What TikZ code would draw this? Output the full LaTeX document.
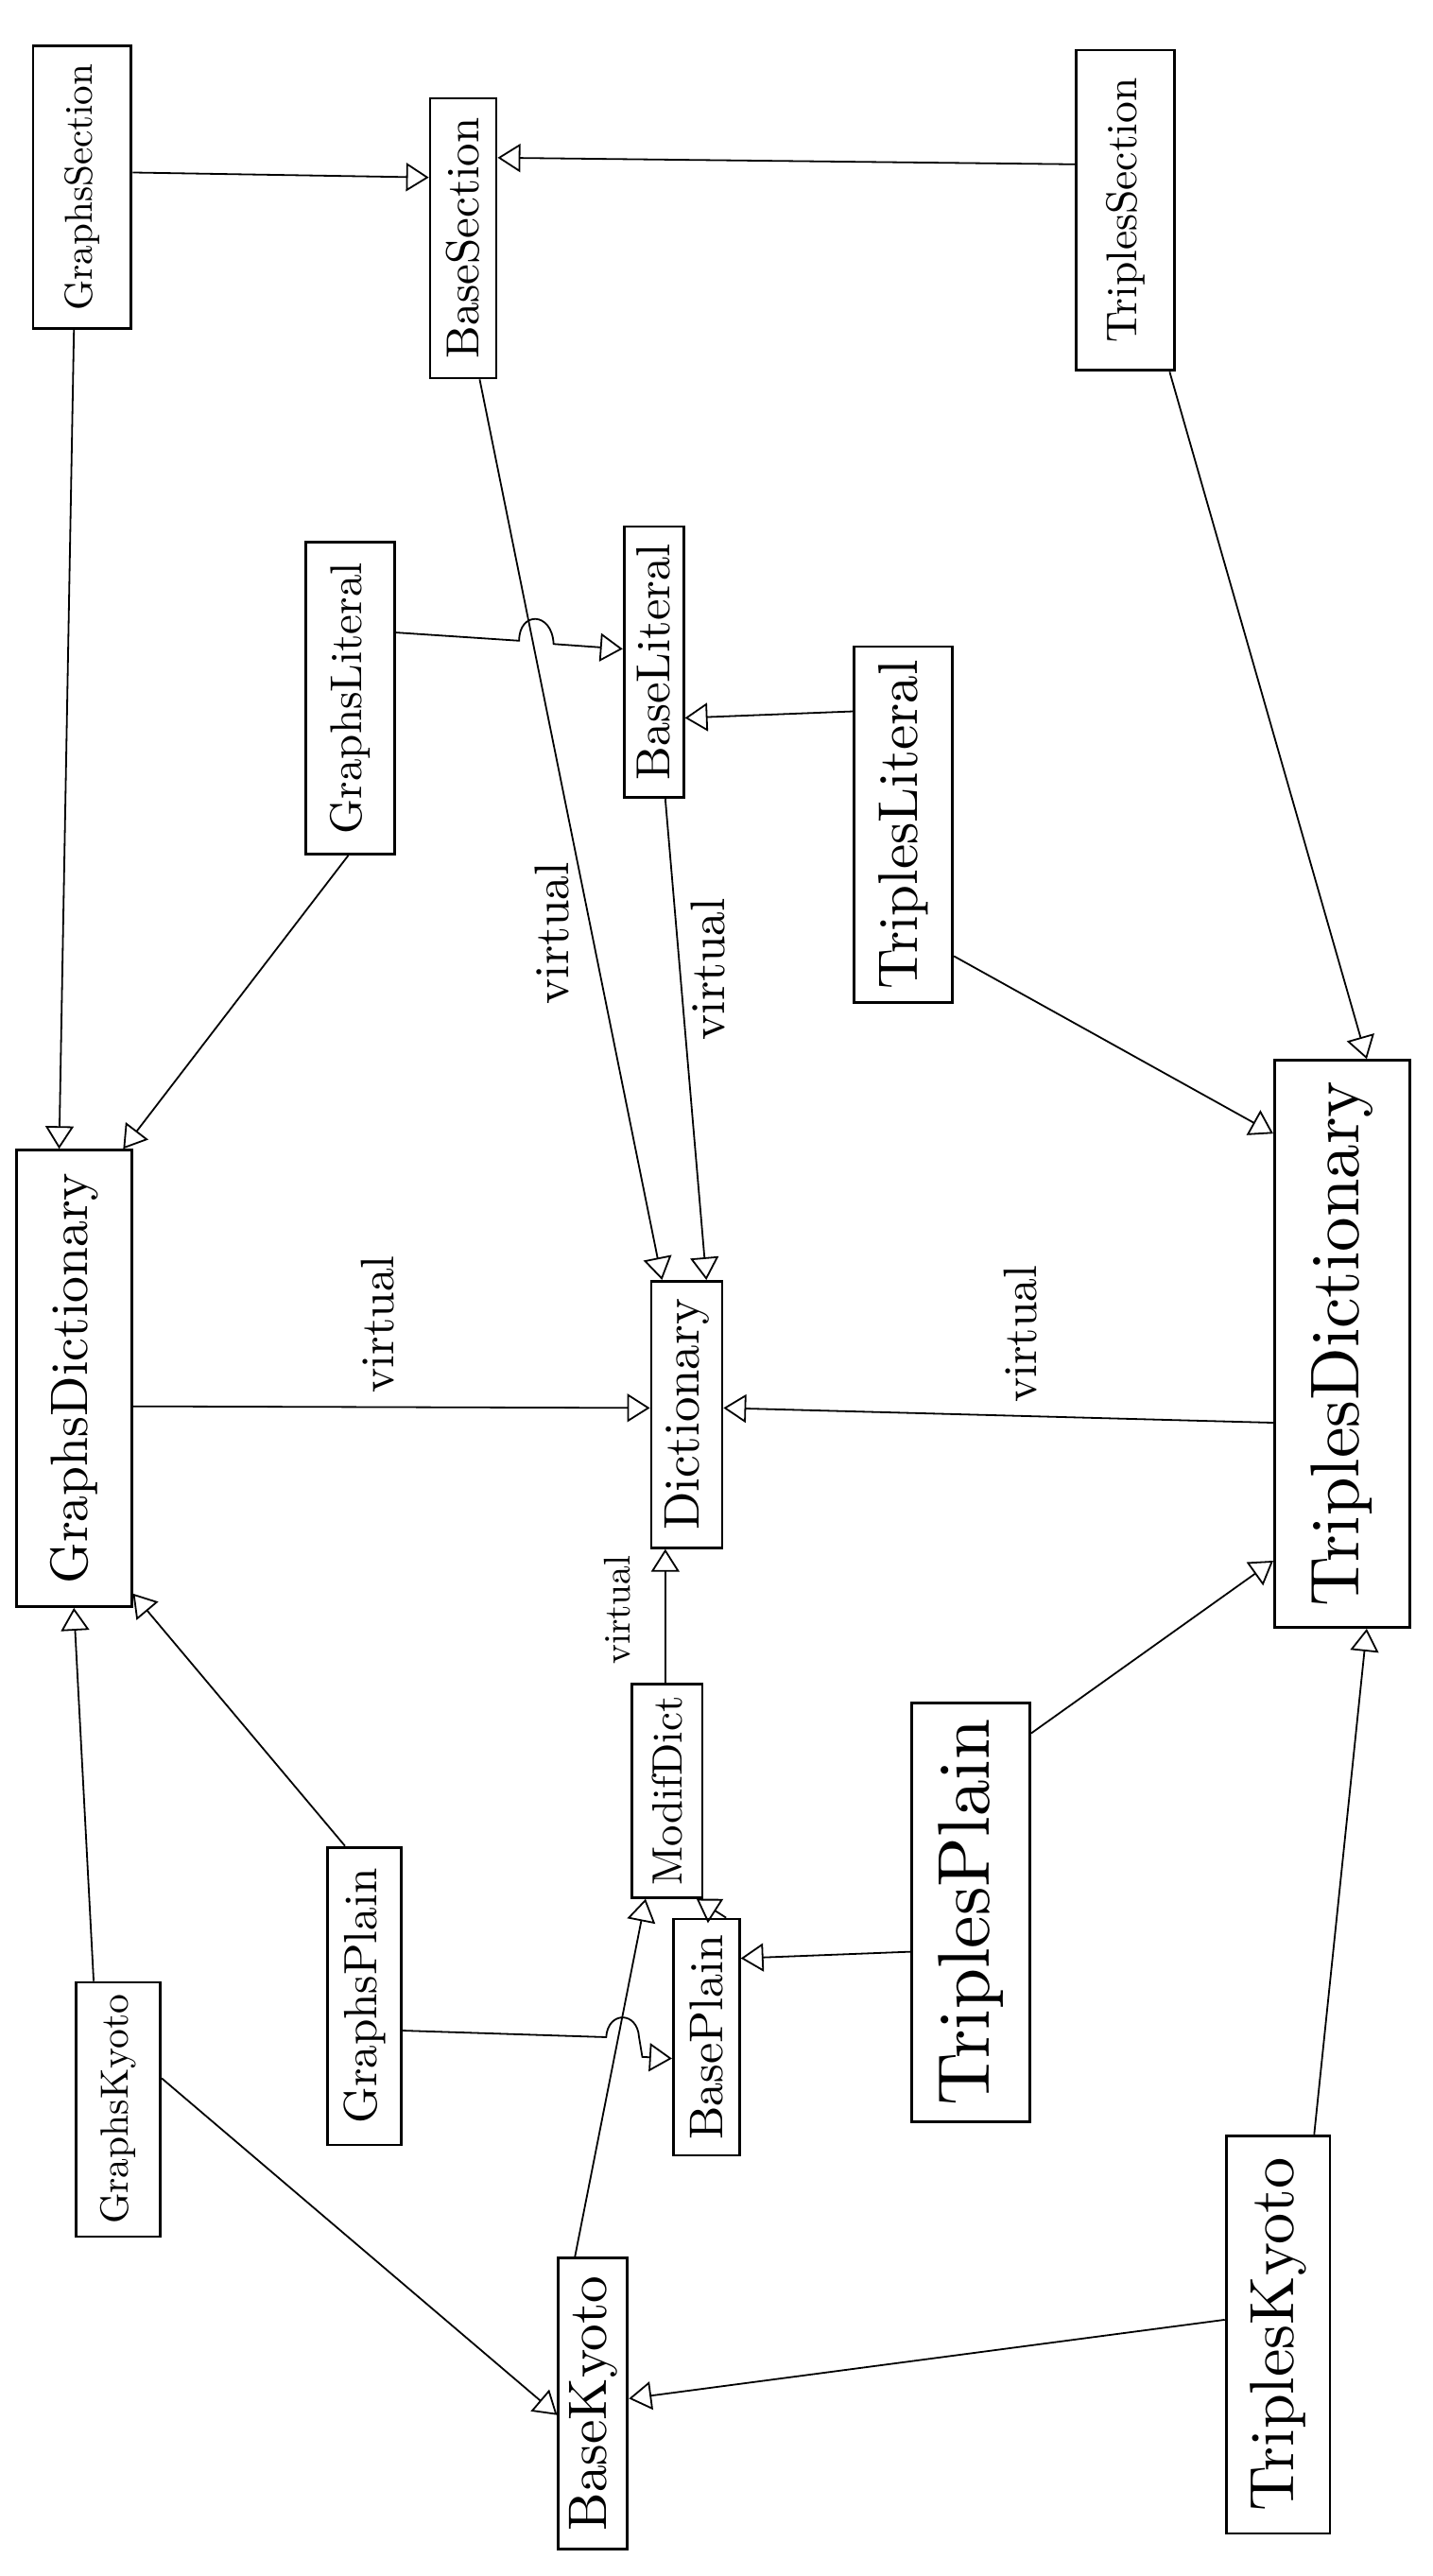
\documentclass[tikz,border=0pt]{standalone}
\usetikzlibrary{arrows.meta,calc}
\newcommand{\vtext}[2]{\rotatebox{90}{\resizebox{#1}{!}{#2}}}
\begin{document}
\begin{tikzpicture}[x=1.7385pt,y=-1.7385pt,
  box/.style={draw, line width=2.8pt, inner sep=0pt},
  conn/.style={line width=1.8pt, -{Triangle[open,length=24pt,width=30pt,line width=1.8pt]}},
  lab/.style={inner sep=0pt}]
\useasboundingbox (0,0) rectangle (872,1568);
\fill[white] (0,0) rectangle (872,1568);
% classes
\node[box, minimum width=104pt, minimum height=299pt] (gs) at (50,114) {\vtext{261pt}{GraphsSection}};
\node[box, minimum width=70pt, minimum height=296pt] (bs) at (282,145) {\vtext{255pt}{BaseSection}};
\node[box, minimum width=104pt, minimum height=339pt] (ts) at (685,128) {\vtext{280pt}{TriplesSection}};
\node[box, minimum width=94pt, minimum height=330pt] (gl) at (213,425) {\vtext{287pt}{GraphsLiteral}};
\node[box, minimum width=63pt, minimum height=287pt] (bl) at (398,403) {\vtext{250pt}{BaseLiteral}};
\node[box, minimum width=104pt, minimum height=377pt] (tl) at (550,502) {\vtext{348pt}{TriplesLiteral}};
\node[box, minimum width=122pt, minimum height=483pt] (gd) at (45,839) {\vtext{435pt}{GraphsDictionary}};
\node[box, minimum width=75pt, minimum height=282pt] (d) at (418,861) {\vtext{245pt}{Dictionary}};
\node[box, minimum width=143pt, minimum height=600pt] (td) at (817,818) {\vtext{556pt}{TriplesDictionary}};
\node[box, minimum width=75pt, minimum height=226pt] (md) at (406,1090) {\vtext{200pt}{ModifDict}};
\node[box, minimum width=78pt, minimum height=315pt] (gp) at (222,1215) {\vtext{270pt}{GraphsPlain}};
\node[box, minimum width=70pt, minimum height=250pt] (bp) at (430,1240) {\vtext{217pt}{BasePlain}};
\node[box, minimum width=125pt, minimum height=443pt] (tp) at (591,1164) {\vtext{409pt}{TriplesPlain}};
\node[box, minimum width=89pt, minimum height=269pt] (gk) at (72,1284) {\vtext{243pt}{GraphsKyoto}};
\node[box, minimum width=73pt, minimum height=308pt] (bk) at (361,1463) {\vtext{270pt}{BaseKyoto}};
\node[box, minimum width=110pt, minimum height=421pt] (tk) at (778,1421) {\vtext{374pt}{TriplesKyoto}};
% labels
\node[lab] (ve) at (336,568) {\vtext{150pt}{virtual}};
\node[lab] (vj) at (431,590) {\vtext{150pt}{virtual}};
\node[lab] (vk) at (230,806) {\vtext{145pt}{virtual}};
\node[lab] (vl) at (621,812) {\vtext{145pt}{virtual}};
\node[lab] (vm) at (376,980) {\vtext{115pt}{virtual}};
% section
\draw[conn] (gs.east |- 0,105) -- (bs.west |- 0,108);
\draw[conn] (ts.west |- 0,100) -- (bs.east |- 0,96);
\draw[conn] (gs.south -| 45,0) -- (gd.north -| 36,0);
\draw[conn] (ts.south -| 712,0) -- (td.north -| 832,0);
\draw[conn] (bs.south -| 292,0) -- (d.north -| 403,0);
% literal
\draw[conn] (gl.east |- 0,385) -- (316,390) .. controls (316,372) and (336,372) .. (337,392) -- (bl.west |- 0,395);
\draw[conn] (tl.west |- 0,433) -- (bl.east |- 0,437);
\draw[conn] (gl.south -| 212,0) -- (gd.north -| 75,0);
\draw[conn] (tl.east |- 0,582) -- (td.west |- 0,690);
\draw[conn] (bl.south -| 405,0) -- (d.north -| 430,0);
% dictionaries
\draw[conn] (gd.east |- 0,856) -- (d.west |- 0,857);
\draw[conn] (td.west |- 0,866) -- (d.east |- 0,857);
\draw[conn] (md.north -| 405,0) -- (d.south -| 405,0);
% plain
\draw[conn] (gp.north -| 210,0) -- (gd.east |- 0,970);
\draw[conn] (gp.east |- 0,1236) -- (369,1240) .. controls (370,1224) and (388,1224) .. (389,1240) -- (391,1252) -- (bp.west |- 0,1253);
\draw[conn] (tp.west |- 0,1188) -- (bp.east |- 0,1192);
\draw[conn] (tp.east |- 0,1055) -- (td.west |- 0,950);
\draw[conn] (bp.north -| 442,0) -- (md.south -| 424,0);
% kyoto
\draw[conn] (gk.north -| 57,0) -- (gd.south -| 45,0);
\draw[conn] (gk.east |- 0,1265) -- (bk.west |- 0,1470);
\draw[conn] (tk.west |- 0,1412) -- (bk.east |- 0,1460);
\draw[conn] (tk.north -| 800,0) -- (td.south -| 832,0);
\draw[conn] (bk.north -| 350,0) -- (md.south -| 393,0);
\end{tikzpicture}
\end{document}
